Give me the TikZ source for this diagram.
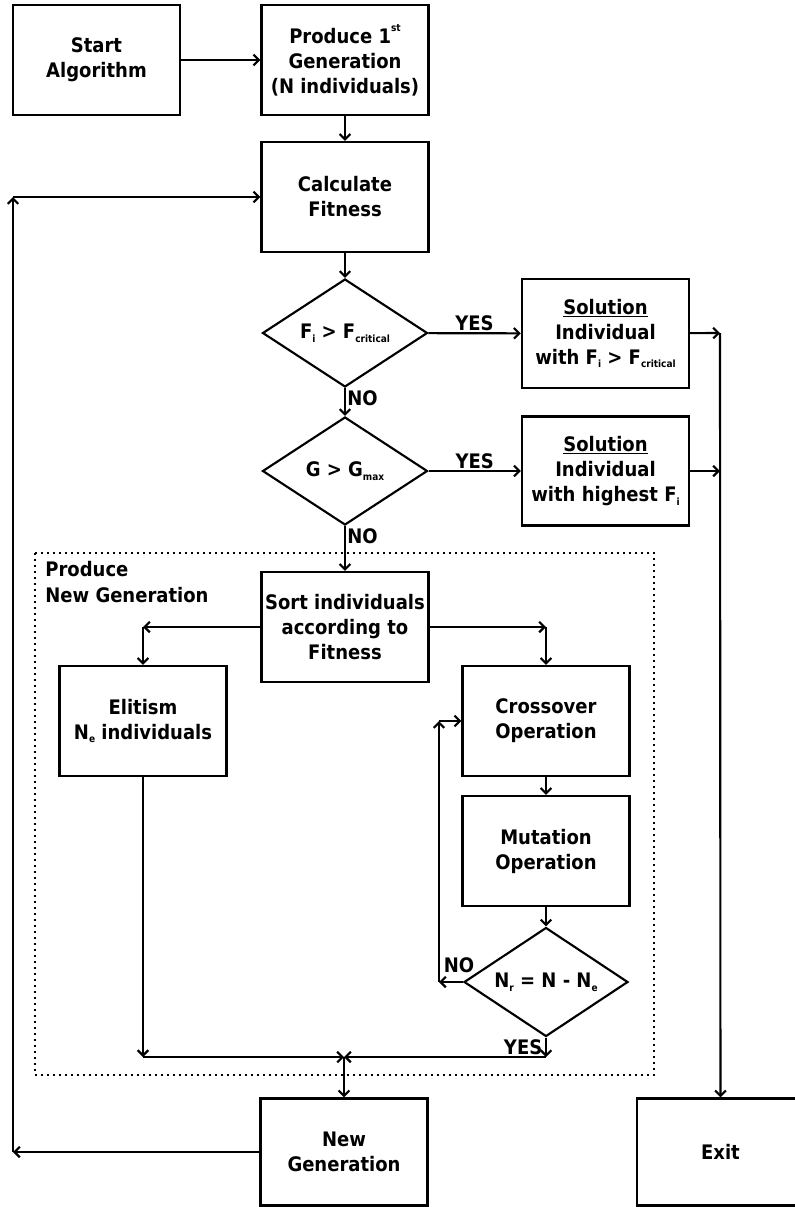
\documentclass[tikz,border=0pt]{standalone}
\usepackage{fontspec}
\setmainfont{DejaVu Sans Condensed}
\usepackage{tikz}
\usetikzlibrary{arrows.meta}
\usetikzlibrary{shapes.geometric}
\usetikzlibrary{positioning}
\tikzset{box/.style = {draw, line width=1.8pt, minimum width=125.25pt, minimum height=82.5pt,
                       inner sep=0, align=center, font=\fontsize{15}{18.75}\selectfont\bfseries}}
\tikzset{solbox/.style = {box, minimum height=81.75pt}}
\tikzset{decision/.style = {draw, diamond, line width=1.6pt, aspect=1.5, inner sep=0,
                            minimum width=123.75pt, minimum height=81pt,
                            font=\fontsize{15}{18.75}\selectfont\bfseries}}
\tikzset{lbl/.style = {inner sep=1pt, font=\fontsize{15}{16}\selectfont\bfseries}}
\tikzset{group/.style = {line width=1.5pt, dash pattern=on 1.5pt off 3pt}}
\newcommand{\lowsub}[1]{\raisebox{-0.35ex}{\fontsize{7.5}{8}\selectfont #1}}
\newcommand{\highsup}[1]{\raisebox{1.1ex}{\fontsize{7.5}{8}\selectfont #1}}

\begin{document}
\begin{tikzpicture}[x=0.75pt, y=-0.75pt, line width=1.6pt, >={Straight Barb[length=4pt, width=8pt]}]
      \useasboundingbox (0, 0) rectangle (795, 1207);
      \clip (0, 0) rectangle (795, 1207);

      \draw [group] (35, 553) rectangle (654, 1075);
      \node [lbl, anchor=north west, align=left, font=\fontsize{15}{19.5}\selectfont\bfseries] (grouplbl) at (43, 559) {Produce\\New Generation};

      \node [box] (start) at (96.5, 60) {Start\\Algorithm};
      \node [box] (first) at (345, 60) {Produce 1\highsup{st}\\Generation\\(N individuals)};
      \node [box] (calc) at (345, 197) {Calculate\\Fitness};

      \node [decision] (crit) at (345, 333) {F\lowsub{i} > F\lowsub{critical}};
      \node [solbox] (solcrit) at (605.5, 333.5) {\underline{Solution}\\Individual\\with F\lowsub{i} > F\lowsub{critical}};

      \node [decision] (gmax) at (345, 471) {G > G\lowsub{max}};
      \node [solbox] (solbest) at (605.5, 471) {\underline{Solution}\\Individual\\with highest F\lowsub{i}};

      \node [box] (sort) at (345, 627) {Sort individuals\\according to\\Fitness};
      \node [box] (elit) at (143, 721) {Elitism\\N\lowsub{e} individuals};
      \node [box] (cross) at (546, 721) {Crossover\\Operation};
      \node [box] (mut) at (546, 851) {Mutation\\Operation};
      \node [decision, minimum width=123pt, minimum height=81.75pt] (count) at (546, 982) {N\lowsub{r} = N - N\lowsub{e}};

      \node [box, minimum height=80.25pt] (newgen) at (344, 1152) {New\\Generation};
      \node [box, minimum height=80.25pt] (exit) at (720.5, 1152) {Exit};

      \coordinate (loopbot) at (13, 1152);
      \coordinate (looptop) at (13, 197);
      \coordinate (exitcol) at (720, 333);
      \coordinate (sortleft) at (143, 627);
      \coordinate (sortright) at (546, 627);
      \coordinate (retbot) at (439, 982);
      \coordinate (rettop) at (439, 721);
      \coordinate (yesend) at (546, 1057);
      \coordinate (elitend) at (143, 1057);
      \coordinate (merge) at (344, 1057);

      \draw [->] (start) -- (first);
      \draw [->] (first) -- (calc);
      \draw [->] (calc) -- (crit);

      \draw [->] (crit) -- (solcrit) node [lbl, above, pos=0.5] (yes1) {YES};
      \draw [->] (crit) -- (gmax) node [lbl, anchor=north west, pos=0] (no1) {NO};
      \draw [->] (gmax) -- (solbest) node [lbl, above, pos=0.5] (yes2) {YES};
      \draw [->] (gmax) -- (sort) node [lbl, anchor=north west, pos=0] (no2) {NO};

      \draw [->] (solcrit) -- (exitcol);
      \draw [->] (solbest) -- (solbest -| exitcol);
      \draw [->] (exitcol) -- (exit);

      \draw [->] (sort) -- (sortleft);
      \draw [->] (sortleft) -- (elit);
      \draw [->] (sort) -- (sortright);
      \draw [->] (sortright) -- (cross);
      \draw [->] (cross) -- (mut);
      \draw [->] (mut) -- (count);

      \draw [->] (count) -- (retbot);
      \node [lbl, anchor=south] (no3) at ([xshift=-3pt, yshift=5pt]count.west) {NO};
      \draw [->] (retbot) -- (rettop);
      \draw [->] (rettop) -- (cross);

      \draw [->] (count) -- (yesend);
      \node [lbl, anchor=east] (yes3) at ([xshift=-1pt, yshift=-7.5pt]count.south) {YES};
      \draw [->] (yesend) -- (merge);
      \draw [->] (elit) -- (elitend);
      \draw [->] (elitend) -- (merge);
      \draw [->] (merge) -- (newgen);

      \draw [->] (newgen) -- (loopbot);
      \draw [->] (loopbot) -- (looptop);
      \draw [->] (looptop) -- (calc);
    \end{tikzpicture}
\end{document}
